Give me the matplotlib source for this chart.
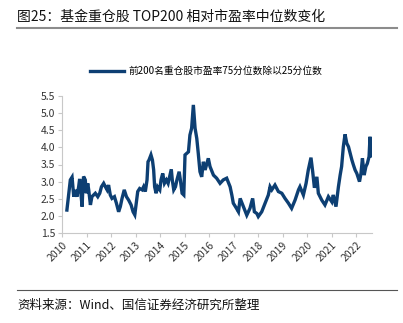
import matplotlib
matplotlib.use("Agg")
import matplotlib.pyplot as plt
from matplotlib.lines import Line2D

plt.rcParams['font.family'] = ['Noto Sans CJK SC', 'DejaVu Sans']

# 前200名重仓股 PE 75分位 / 25分位 (year fraction, ratio)
years = [
    2010.20, 2010.34, 2010.41, 2010.48, 2010.54, 2010.61, 2010.68, 2010.72, 2010.78, 2010.82,
    2010.86, 2010.88, 2010.95, 2010.99, 2011.05, 2011.09, 2011.16, 2011.22, 2011.36, 2011.46,
    2011.54, 2011.61, 2011.70, 2011.77, 2011.84, 2011.90, 2011.97, 2012.04, 2012.14, 2012.22,
    2012.31, 2012.38, 2012.45, 2012.54, 2012.63, 2012.72, 2012.82, 2012.90, 2012.97, 2013.03,
    2013.09, 2013.17, 2013.27, 2013.33, 2013.40, 2013.47, 2013.51, 2013.55, 2013.63, 2013.69,
    2013.74, 2013.78, 2013.84, 2013.90, 2013.99, 2014.04, 2014.11, 2014.18, 2014.26, 2014.33,
    2014.42, 2014.46, 2014.50, 2014.56, 2014.63, 2014.69, 2014.78, 2014.83, 2014.90, 2014.97,
    2015.02, 2015.16, 2015.22, 2015.29, 2015.36, 2015.43, 2015.50, 2015.56, 2015.63, 2015.70,
    2015.77, 2015.84, 2015.97, 2016.04, 2016.18, 2016.31, 2016.45, 2016.58, 2016.72, 2016.86,
    2016.93, 2016.99, 2017.12, 2017.20, 2017.27, 2017.40, 2017.54, 2017.67, 2017.78, 2017.85,
    2017.95, 2018.01, 2018.15, 2018.29, 2018.42, 2018.49, 2018.56, 2018.69, 2018.83, 2018.97,
    2019.10, 2019.24, 2019.37, 2019.51, 2019.65, 2019.71, 2019.85, 2019.96, 2020.05, 2020.16,
    2020.23, 2020.30, 2020.40, 2020.46, 2020.60, 2020.73, 2020.87, 2021.01, 2021.07, 2021.18,
    2021.28, 2021.35, 2021.41, 2021.48, 2021.55, 2021.62, 2021.69, 2021.76, 2021.83, 2021.89,
    2021.96, 2022.03, 2022.14, 2022.20, 2022.26, 2022.33, 2022.40, 2022.46, 2022.53, 2022.57,
    2022.60,
]
ratio = [
    2.17, 3.05, 3.13, 2.56, 2.76, 2.56, 2.85, 3.08, 2.61, 2.27,
    2.95, 3.15, 3.05, 2.66, 2.95, 2.76, 2.32, 2.56, 2.66, 2.56,
    2.66, 2.85, 2.95, 2.85, 2.76, 2.90, 2.61, 2.51, 2.56, 2.37,
    2.12, 2.27, 2.51, 2.76, 2.56, 2.46, 2.32, 2.12, 2.03, 2.37,
    2.71, 2.80, 2.76, 2.85, 2.71, 3.05, 3.58, 3.63, 3.78, 3.63,
    3.34, 2.85, 2.66, 2.85, 2.76, 3.05, 3.24, 2.95, 3.05, 2.95,
    3.24, 3.36, 3.05, 2.76, 2.85, 3.05, 3.29, 3.05, 2.66, 2.61,
    3.78, 3.87, 4.36, 4.56, 5.24, 4.56, 4.26, 3.83, 3.29, 3.14,
    3.58, 3.34, 3.68, 3.44, 3.19, 3.10, 2.95, 3.05, 3.10, 2.85,
    2.61, 2.37, 2.22, 2.12, 2.51, 2.27, 2.02, 2.22, 2.51, 2.12,
    2.07, 1.98, 2.12, 2.37, 2.61, 2.85, 2.76, 2.90, 2.71, 2.66,
    2.51, 2.37, 2.22, 2.46, 2.76, 2.85, 2.61, 2.95, 3.34, 3.70,
    3.29, 2.82, 3.14, 2.66, 2.46, 2.32, 2.56, 2.41, 2.61, 2.27,
    2.85, 3.19, 3.44, 4.02, 4.38, 4.12, 4.02, 3.83, 3.63, 3.49,
    3.34, 3.24, 3.00, 3.24, 3.68, 3.19, 3.44, 3.53, 3.73, 4.31,
    3.75,
]
year_ticks = list(range(2010, 2023))
y_ticks = [1.5, 2.0, 2.5, 3.0, 3.5, 4.0, 4.5, 5.0, 5.5]

W, H = 403, 323
fig = plt.figure(figsize=(W / 100, H / 100), dpi=100)
ax = fig.add_axes([62 / W, 1 - 233 / H, (372 - 62) / W, (233 - 96) / H])

line_color = '#0d3f73'
ax.plot(years, ratio, color=line_color, lw=2.4, solid_joinstyle='miter',
        label='前200名重仓股市盈率75分位数除以25分位数')

ax.set_xlim(2010, 2022.65)
ax.set_ylim(1.5, 5.5)
ax.set_xticks(year_ticks)
ax.set_xticklabels([str(y) for y in year_ticks], rotation=45, ha='right',
                   rotation_mode='anchor', fontsize=7.5, color='#333333')
ax.set_yticks(y_ticks)
ax.set_yticklabels(['%.1f' % v for v in y_ticks], fontsize=7.5, color='#333333')

for side in ['top', 'right']:
    ax.spines[side].set_visible(False)
for side in ['left', 'bottom']:
    ax.spines[side].set_color('#c8c8c8')
    ax.spines[side].set_linewidth(0.8)
ax.tick_params(axis='both', color='#c8c8c8', length=3, width=0.8, pad=2)

fig.legend(loc='center', bbox_to_anchor=(206 / W, 1 - 71 / H), frameon=False,
           fontsize=7, handlelength=3.5, handletextpad=0.4)

# header and footer
fig.text(17 / W, 1 - 17 / H, '图25：基金重仓股 TOP200 相对市盈率中位数变化',
         fontsize=10, va='center', ha='left', color='#111111')
fig.add_artist(Line2D([17 / W, 397 / W], [1 - 28 / H] * 2, color='#8c8c8c', lw=1.5))
fig.add_artist(Line2D([17 / W, 397 / W], [1 - 290 / H] * 2, color='#555555', lw=0.8))
fig.text(17 / W, 1 - 305 / H, '资料来源：Wind、国信证券经济研究所整理',
         fontsize=9, va='center', ha='left', color='#111111')

fig.savefig('out.png', dpi=100)
